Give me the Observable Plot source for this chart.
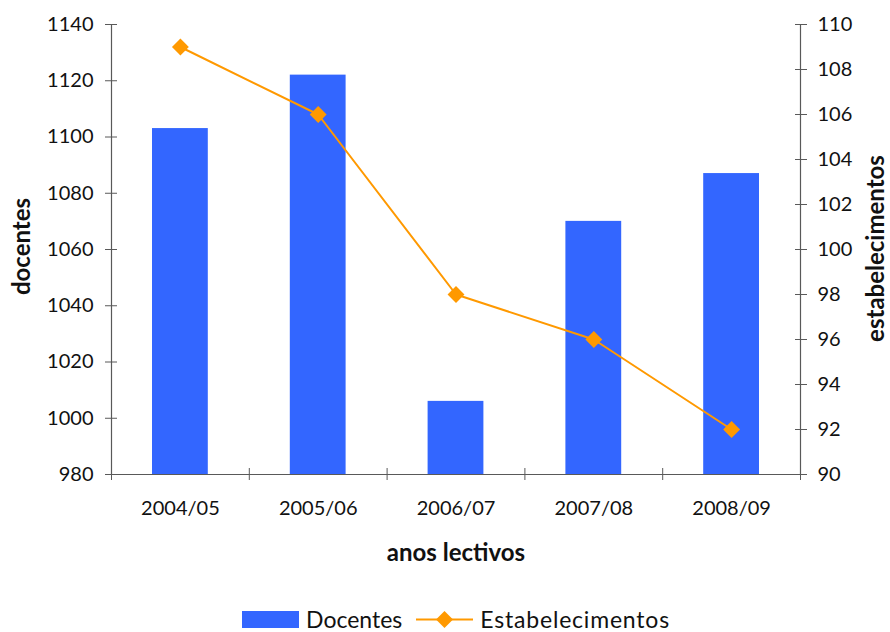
<!DOCTYPE html>
<html>
<head>
<meta charset="utf-8">
<script src="https://cdn.jsdelivr.net/npm/d3@7"></script>
<script src="https://cdn.jsdelivr.net/npm/@observablehq/plot@0.6"></script>
<style>
  html, body { margin: 0; padding: 0; background: #fff; }
  #chart { width: 890px; }
  #legend {
    display: flex; justify-content: center; align-items: center;
    height: 26px; font-family: Lato, sans-serif; font-size: 23px; color: #111;
    transform: translateX(11px);
  }
  #legend span { margin-left: 7px; }
</style>
</head>
<body>
<div id="chart"></div>
<div id="legend"></div>
<script>
// Número de docentes e de estabelecimentos por ano lectivo
const categories = ["2004/05", "2005/06", "2006/07", "2007/08", "2008/09"];
const docentes = [1103, 1122, 1006, 1070, 1087];
const estabelecimentos = [109, 106, 98, 96, 92];
const docentesTicks = [980, 1000, 1020, 1040, 1060, 1080, 1100, 1120, 1140];
const estabTicks = [90, 92, 94, 96, 98, 100, 102, 104, 106, 108, 110];

const barColor = "#3366FF";
const lineColor = "#FF9900";
const axisColor = "#595959";

// The right-hand axis (estabelecimentos, 90–110) shares the y scale of the
// left-hand one (docentes, 980–1140) through a linear mapping.
const [d0, d1] = [docentesTicks[0], docentesTicks[docentesTicks.length - 1]];
const [e0, e1] = [estabTicks[0], estabTicks[estabTicks.length - 1]];
const toLeft = (v) => d0 + (v - e0) * (d1 - d0) / (e1 - e0);
const fromLeft = (v) => String(Math.round(e0 + (v - d0) * (e1 - e0) / (d1 - d0)));

const rows = categories.map((c, i) => ({
  i, c, docentes: docentes[i], estab: estabelecimentos[i]
}));
const n = categories.length;
const bounds = d3.range(0, n + 1);
const centers = categories.map((c, i) => i + 0.5);

const titleStyle = { fontWeight: "bold", fontSize: 24, fill: "#111", textAnchor: "middle", lineAnchor: "middle" };

const chart = Plot.plot({
  width: 890,
  height: 606,
  marginLeft: 111,
  marginRight: 90,
  marginTop: 24,
  marginBottom: 132,
  style: { fontFamily: "Lato, sans-serif", fontSize: "20px", color: "#111", background: "#fff" },
  x: { type: "linear", domain: [0, n] },
  y: { domain: [d0, d1] },
  marks: [
    Plot.rectY(rows, {
      x1: "i", x2: (d) => d.i + 1, y1: d0, y2: "docentes",
      insetLeft: 41, insetRight: 41, fill: barColor
    }),
    // axis lines
    Plot.ruleX([0, n], { stroke: axisColor, strokeWidth: 1.2 }),
    Plot.ruleY([d0], { stroke: axisColor, strokeWidth: 1.2 }),
    // left axis: crossing ticks + labels
    Plot.axisY(docentesTicks, { anchor: "left", tickSize: 12, dx: 6, tickFormat: () => "", stroke: axisColor, label: null }),
    Plot.axisY(docentesTicks, { anchor: "left", tickSize: 0, tickPadding: 18, tickFormat: (d) => String(d), label: null }),
    // right axis
    Plot.axisY(estabTicks.map(toLeft), { anchor: "right", tickSize: 12, dx: -6, tickFormat: () => "", stroke: axisColor, label: null }),
    Plot.axisY(estabTicks.map(toLeft), { anchor: "right", tickSize: 0, tickPadding: 17, tickFormat: fromLeft, label: null }),
    // bottom axis: ticks on category boundaries, labels at centres
    Plot.axisX(bounds, { anchor: "bottom", tickSize: 12, dy: -6, tickFormat: () => "", stroke: axisColor, label: null }),
    Plot.axisX(centers, { anchor: "bottom", tickSize: 0, tickPadding: 26, tickFormat: (v) => categories[Math.floor(v)], label: null }),
    // axis titles
    Plot.text(["docentes"], { ...titleStyle, frameAnchor: "left", rotate: -90, dx: -89, dy: -3 }),
    Plot.text(["estabelecimentos"], { ...titleStyle, frameAnchor: "right", rotate: -90, dx: 76, dy: -1 }),
    Plot.text(["anos lectivos"], { ...titleStyle, frameAnchor: "bottom", dy: 79 }),
    // estabelecimentos series
    Plot.line(rows, { x: (d) => d.i + 0.5, y: (d) => toLeft(d.estab), stroke: lineColor, strokeWidth: 2 }),
    Plot.dot(rows, { x: (d) => d.i + 0.5, y: (d) => toLeft(d.estab), symbol: "diamond2", r: 7.6, fill: lineColor, stroke: "none" })
  ]
});
document.getElementById("chart").append(chart);

// legend below the chart
const legend = d3.select("#legend");
const sw1 = legend.append("svg").attr("width", 57).attr("height", 17);
sw1.append("rect").attr("width", 57).attr("height", 17).attr("fill", barColor);
legend.append("span").text("Docentes");
const sw2 = legend.append("svg").attr("width", 57).attr("height", 17).style("margin-left", "14px");
sw2.append("line").attr("x1", 0).attr("x2", 57).attr("y1", 8.5).attr("y2", 8.5)
  .attr("stroke", lineColor).attr("stroke-width", 2);
sw2.append("path").attr("d", d3.symbol(d3.symbolDiamond2, 184)()).attr("transform", "translate(28.5,8.5)")
  .attr("fill", lineColor);
legend.append("span").text("Estabelecimentos").style("letter-spacing", "0.8px");
</script>
</body>
</html>
